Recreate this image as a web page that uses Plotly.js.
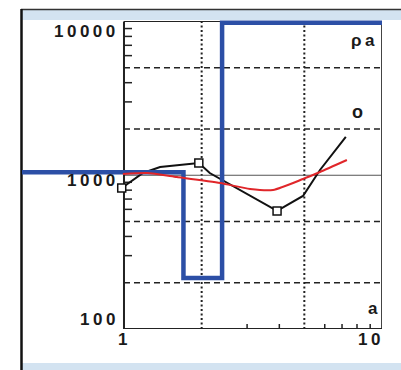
<!DOCTYPE html>
<html>
<head>
<meta charset="utf-8">
<script src="https://cdn.plot.ly/plotly-3.0.1.min.js"></script>
<style>
  html, body { margin: 0; padding: 0; background: #ffffff; }
  #chart { width: 401px; height: 370px; }
  text.annotation-text { letter-spacing: 3.5px; }
</style>
</head>
<body>
<div id="chart"></div>
<script>
// ---- data ----
// layered model (blue step line)
const modelX = [0.1, 1.70, 1.70, 2.40, 2.40, 20];
const modelY = [1046, 1046, 215, 215, 9800, 9800];

// black curve
const curveX = [0.98, 1.185, 1.38, 1.605, 1.95, 2.15, 3.37, 3.92, 4.94, 5.75, 7.24];
const curveY = [826, 1034, 1131, 1166, 1202, 1034, 670, 586, 733, 1082, 1774];

// open square markers on the black curve
const pointX = [0.98, 1.95, 3.92];
const pointY = [826, 1202, 586];

// red curve
const redX = [0.99, 1.23, 1.605, 2.36, 3.08, 3.78, 4.94, 5.75, 7.31];
const redY = [1019, 1034, 974, 890, 814, 802, 945, 1050, 1256];

// axes
const yTickVals = [100, 1000, 10000];
const yTickText = ['100', '1000', '10000'];
const xTickVals = [1, 10];
const xTickText = ['1', '10'];
const yMinorTicks = [300, 400, 600, 700, 800, 900, 3000, 4000, 6000, 7000, 8000, 9000];
const xMinorTicks = [3, 4, 6, 7, 8, 9];
const yDashedGrid = [200, 500, 2000, 5000];
const xDottedGrid = [2, 5];
const yBaseLine = [1000];

const xMin = 1, xMax = 10, yMin = 100, yMax = 10000;

// ---- build ----
const W = 401, H = 370;
const shapes = [];
const band = '#d3e3f1';

// outer window frame
shapes.push({type:'rect', xref:'paper', yref:'paper', x0:22/W, x1:1, y0:1-20/H, y1:1-10/H, fillcolor:band, line:{width:0}, layer:'below'});
shapes.push({type:'rect', xref:'paper', yref:'paper', x0:22/W, x1:1, y0:0, y1:1-363/H, fillcolor:band, line:{width:0}, layer:'below'});
shapes.push({type:'line', xref:'paper', yref:'paper', x0:21/W, x1:1, y0:1-9.5/H, y1:1-9.5/H, line:{color:'#333', width:1.5}, layer:'below'});
shapes.push({type:'line', xref:'paper', yref:'paper', x0:21.5/W, x1:21.5/W, y0:0, y1:1-9/H, line:{color:'#111', width:2.5}, layer:'below'});

// dashed horizontal grid
yDashedGrid.forEach(v => shapes.push({type:'line', xref:'x', yref:'y', x0:xMin, x1:xMax, y0:v, y1:v,
  line:{color:'#222', width:1.5, dash:'6px,4px'}, layer:'below'}));
// dotted vertical grid
xDottedGrid.forEach(v => shapes.push({type:'line', xref:'x', yref:'y', x0:v, x1:v, y0:yMin, y1:yMax,
  line:{color:'#222', width:2, dash:'2px,2.5px'}, layer:'below'}));
// solid base line at 1000
yBaseLine.forEach(v => shapes.push({type:'line', xref:'x', yref:'y', x0:xMin, x1:xMax, y0:v, y1:v,
  line:{color:'#555', width:1.2}, layer:'below'}));

// plot frame
shapes.push({type:'line', xref:'x', yref:'y', x0:xMin, x1:xMax, y0:yMax, y1:yMax, line:{color:'#222', width:1}, layer:'below'});
shapes.push({type:'line', xref:'x', yref:'y', x0:xMax, x1:xMax, y0:yMin, y1:yMax, line:{color:'#444', width:2}, layer:'below'});
shapes.push({type:'line', xref:'x', yref:'y', x0:xMin, x1:xMax, y0:yMin, y1:yMin, line:{color:'#222', width:2}, layer:'below'});
shapes.push({type:'line', xref:'x', yref:'y', x0:xMin, x1:xMin, y0:yMin, y1:yMax, line:{color:'#222', width:2}, layer:'below'});

// minor ticks (inside)
yMinorTicks.forEach(v => shapes.push({type:'line', xref:'x', yref:'y', xsizemode:'pixel', xanchor:xMin,
  x0:0, x1:8, y0:v, y1:v, line:{color:'#222', width:1.5}, layer:'below'}));
xMinorTicks.forEach(v => shapes.push({type:'line', xref:'x', yref:'y', ysizemode:'pixel', yanchor:yMin,
  y0:0, y1:5, x0:v, x1:v, line:{color:'#222', width:1.5}, layer:'below'}));

// tick labels as annotations
const tickFont = {family:'Liberation Sans', size:17, color:'#1a1a1a', weight:'bold'};
const yShifts = [10, -5, -10];
const annotations = [];
yTickVals.forEach((v, i) => annotations.push({xref:'x', yref:'y', x:Math.log10(xMin), y:Math.log10(v),
  text:yTickText[i], showarrow:false, xanchor:'right', yanchor:'middle', xshift:-2.5, yshift:yShifts[i], font:tickFont}));
const xAnchors = ['center', 'right'];
const xShifts = [1, 3.5];
xTickVals.forEach((v, i) => annotations.push({xref:'x', yref:'y', x:Math.log10(v), y:Math.log10(yMin),
  text:xTickText[i], showarrow:false, xanchor:xAnchors[i], yanchor:'middle', xshift:xShifts[i], yshift:-10, font:tickFont}));

// corner labels
const labFont = {family:'Liberation Sans', size:17, color:'#1a1a1a', weight:'bold'};
annotations.push({xref:'paper', yref:'paper', x:364/W, y:1-40/H, text:'ρa', showarrow:false, xanchor:'center', yanchor:'middle', font:labFont});
annotations.push({xref:'paper', yref:'paper', x:359/W, y:1-112/H, text:'o', showarrow:false, xanchor:'center', yanchor:'middle', font:{family:'Liberation Sans', size:18, color:'#1a1a1a', weight:'bold'}});
annotations.push({xref:'paper', yref:'paper', x:374/W, y:1-308/H, text:'a', showarrow:false, xanchor:'center', yanchor:'middle', font:labFont});

const traces = [
  {x:curveX, y:curveY, mode:'lines', line:{color:'#111', width:2}, hoverinfo:'skip'},
  {x:modelX, y:modelY, mode:'lines', line:{color:'#2c4fa6', width:4.5, shape:'linear'}, hoverinfo:'skip'},
  {x:redX, y:redY, mode:'lines', line:{color:'#e0262a', width:2, shape:'spline', smoothing:0.6}, hoverinfo:'skip'},
  {x:pointX, y:pointY, mode:'markers', marker:{symbol:'square', size:8, color:'#ffffff', line:{color:'#111', width:1.5}}, hoverinfo:'skip'}
];

const layout = {
  width: W, height: H,
  margin: {l:0, r:0, t:0, b:0},
  paper_bgcolor: '#ffffff',
  plot_bgcolor: 'rgba(0,0,0,0)',
  showlegend: false,
  xaxis: {type:'log', range:[-0.3953, 1], domain:[22/W, 382/W], visible:false, fixedrange:true},
  yaxis: {type:'log', range:[2, 4.0098], domain:[(H-329)/H, (H-20)/H], visible:false, fixedrange:true},
  shapes: shapes,
  annotations: annotations
};

Plotly.newPlot('chart', traces, layout, {staticPlot:true, displayModeBar:false});
</script>
</body>
</html>
